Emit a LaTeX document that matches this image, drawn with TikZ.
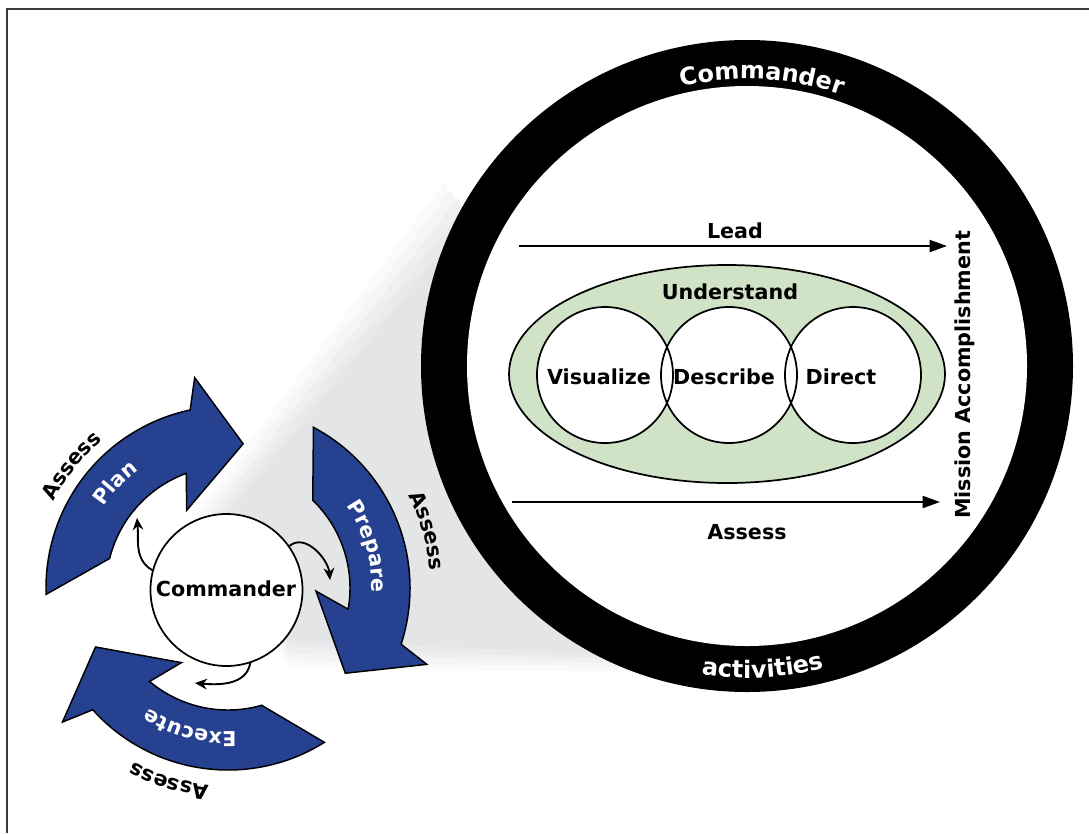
\documentclass[tikz,border=0pt]{standalone}
\usepackage{fontspec}
\setmainfont{DejaVu Sans}
\usetikzlibrary{decorations.text,arrows.meta}
\definecolor{armyblue}{RGB}{38,65,143}
\definecolor{ugreen}{RGB}{208,227,199}
\definecolor{shadowgray}{RGB}{228,229,231}
\definecolor{framegray}{RGB}{60,60,60}
\newcommand\arcfont{\bfseries\fontsize{15.5}{18}\selectfont}
\newcommand\ringfont{\bfseries\fontsize{18}{21}\selectfont}
\begin{document}
\begin{tikzpicture}[x=0.75pt,y=0.75pt,
  lbl/.style={font=\bfseries\fontsize{15.5}{18}\selectfont, inner sep=0pt},
  bigarrow/.style={fill=armyblue, draw=black, line width=1.1pt, line join=miter},
  vcircle/.style={circle, fill=white, minimum size=102pt, inner sep=0pt},
  flow/.style={line width=1.5pt, -{Triangle[length=13pt,width=9pt]}},
  looparrow/.style={line width=1.4pt, -{Stealth[length=9pt,width=8pt]}},
]
\useasboundingbox (0,0) rectangle (1089,-833);
\fill[white] (0,0) rectangle (1089,-833);
\draw[framegray, line width=1.6pt] (7,-833) -- (7,-9) -- (1089,-9);

\coordinate (C) at (228,-588);
\coordinate (B) at (747,-366);

% shadow cone (soft edges by layers)
\fill[shadowgray!20] (196,-514) -- (444,-182) -- (670,-672) -- (290,-668) -- cycle;
\fill[shadowgray!40] (204,-514) -- (451,-190) -- (665,-668) -- (290,-661) -- cycle;
\fill[shadowgray!60] (212,-514) -- (458,-198) -- (660,-664) -- (290,-654) -- cycle;
\fill[shadowgray!80] (220,-514) -- (465,-206) -- (655,-660) -- (290,-647) -- cycle;
\fill[shadowgray] (228,-514) -- (472,-214) -- (650,-656) -- (290,-640) -- cycle;

% big ring
\fill[black] (B) circle (326);
\fill[white] (B) circle (280);

% ring texts
\path[decorate, decoration={text along path, text align=center, text color=white,
  text={|\ringfont|Commander}}] ([shift={(B)}]112:287) arc[start angle=112, end angle=62, radius=287];
\path[decorate, decoration={text along path, text align=center, text color=white,
  text={|\ringfont|activities}}] ([shift={(B)}]-112:312) arc[start angle=-112, end angle=-62, radius=312];

% understand ellipse and circles
\draw[fill=ugreen, line width=1.3pt] (727,-374) ellipse [x radius=218, y radius=109];
\node[vcircle] (vis) at (605,-375) {};
\node[vcircle] (des) at (729,-375) {};
\node[vcircle] (dir) at (853,-375) {};
\foreach \n in {vis,des,dir} \draw[line width=1.3pt] (\n) circle (68);
\node[lbl] (understand) at (730,-292) {Understand};
\node[lbl] (visualize) at (599,-377) {Visualize};
\node[lbl] (describe) at (724,-377) {Describe};
\node[lbl] (direct) at (841,-377) {Direct};

% lead / assess arrows
\coordinate (leadS) at (519,-246);
\coordinate (leadE) at (947,-246);
\coordinate (assS) at (512,-502);
\coordinate (assE) at (940,-502);
\draw[flow] (leadS) -- (leadE);
\draw[flow] (assS) -- (assE);
\node[lbl] (lead) at (735,-231) {Lead};
\node[lbl] (assessin) at (747,-532) {Assess};
\node[lbl, rotate=90] (mission) at (965,-375) {Mission Accomplishment};

% cycle arrows
\foreach \r in {0,-120,-240}{
\begin{scope}[shift={(C)}, rotate=\r]
\filldraw[bigarrow] (166:122) -- (182:182) arc[start angle=182, end angle=102, radius=182]
  -- (99:213) -- (84:145) -- (118:88) -- (110:122)
  arc[start angle=110, end angle=166, radius=122] -- cycle;
\end{scope}
}

% arrow labels
\path[decorate, decoration={text along path, text align=center, text color=white,
  text={|\arcfont|Plan}}] ([shift={(C)}]162:148) arc[start angle=162, end angle=112, radius=148];
\path[decorate, decoration={text along path, text align=center, text color=white,
  text={|\arcfont|Prepare}}] ([shift={(C)}]46:144) arc[start angle=46, end angle=-13, radius=144];
\path[decorate, decoration={text along path, text align=center, text color=white,
  text={|\arcfont|Execute}}] ([shift={(C)}]-75:144) arc[start angle=-75, end angle=-135, radius=144];

\path[decorate, decoration={text along path, text align=center,
  text={|\arcfont|Assess}}] ([shift={(C)}]167:194) arc[start angle=167, end angle=117, radius=194];
\path[decorate, decoration={text along path, text align=center,
  text={|\arcfont|Assess}}] ([shift={(C)}]41:203) arc[start angle=41, end angle=-9, radius=203];
\path[decorate, decoration={text along path, text align=center,
  text={|\arcfont|Assess}}] ([shift={(C)}]-82:198) arc[start angle=-82, end angle=-132, radius=198];

% commander
\node[circle, draw=black, fill=white, line width=1.3pt, minimum size=114pt, inner sep=0pt] (cmd) at (226.5,-590) {};
\node[lbl] (cmdtext) at (226,-589) {Commander};

\coordinate (l1) at (137,-518);
\coordinate (l2) at (330,-580);
\coordinate (l3) at (195,-683);
\draw[looparrow] (cmd.165) to[out=150, in=-85] (l1);
\draw[looparrow] (cmd.35) to[out=40, in=95] (l2);
\draw[looparrow] (cmd.-72) to[out=-100, in=-5] (l3);
\end{tikzpicture}
\end{document}
